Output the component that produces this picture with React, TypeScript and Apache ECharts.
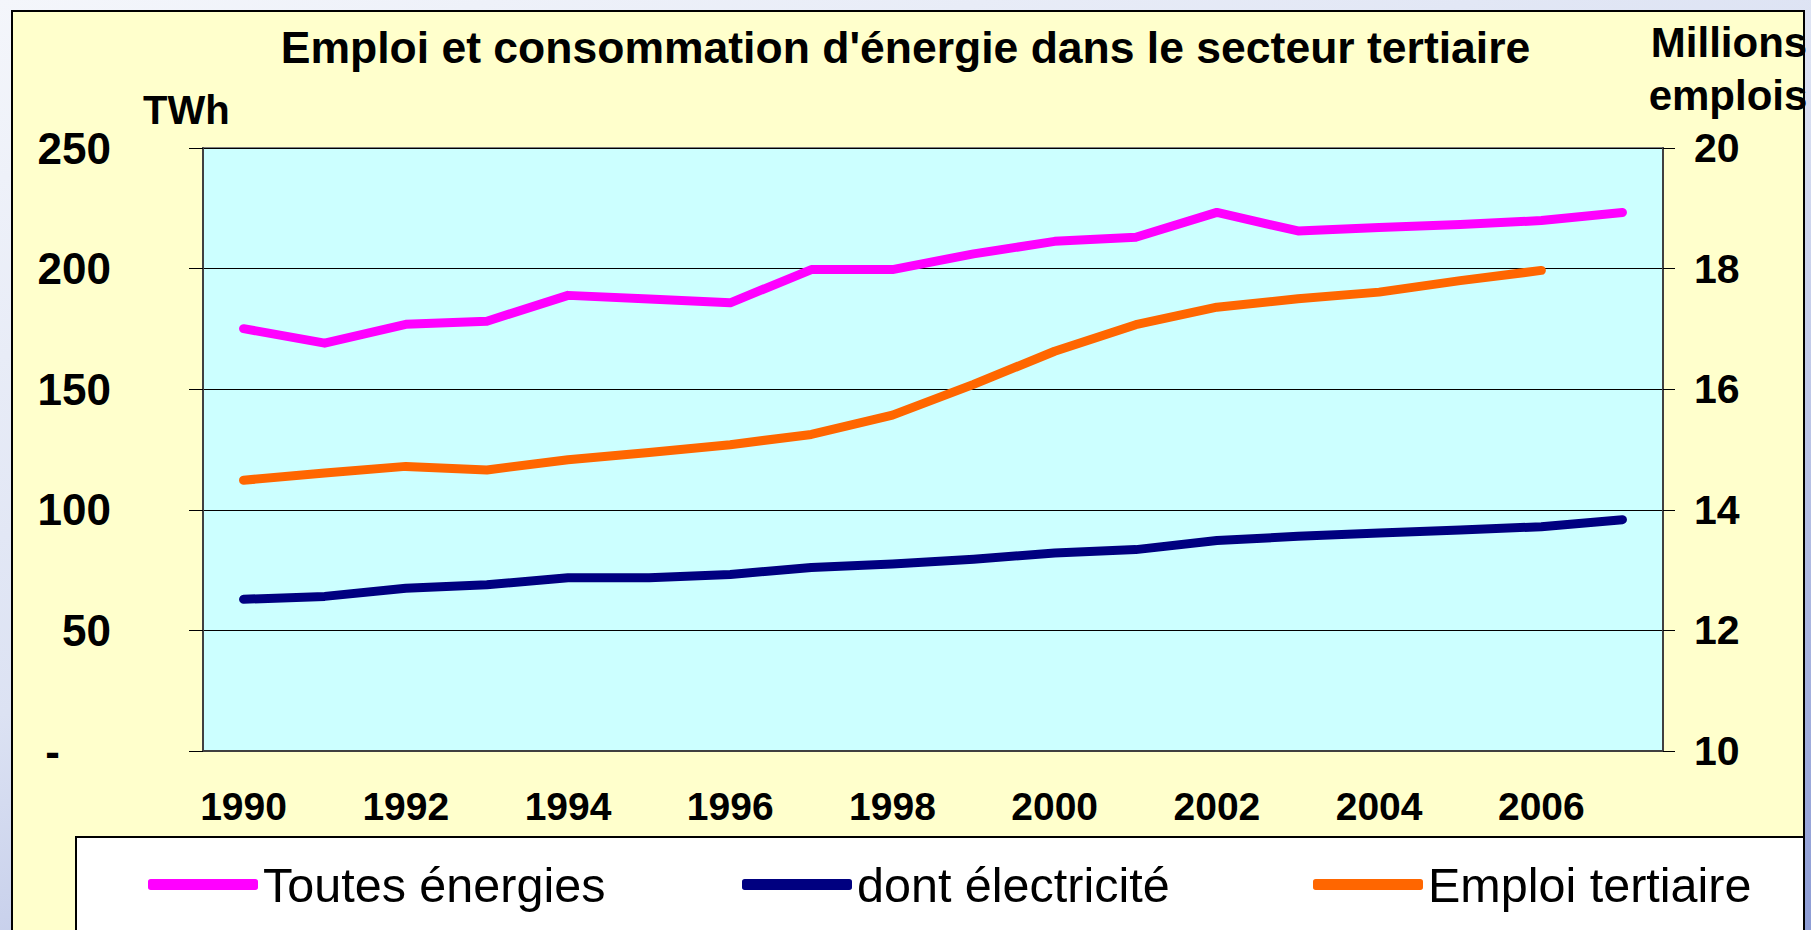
import React, { useEffect, useRef } from "react";
import * as echarts from "echarts";

const years = ["1990", "1991", "1992", "1993", "1994", "1995", "1996", "1997", "1998", "1999", "2000", "2001", "2002", "2003", "2004", "2005", "2006", "2007"];
const toutesEnergies = [175.1, 169.1, 176.9, 178.2, 188.9, 187.4, 185.8, 199.6, 199.6, 206.1, 211.3, 213.0, 223.3, 215.6, 217.0, 218.3, 219.9, 223.3];
const electricite = [62.9, 64.1, 67.5, 68.9, 71.8, 71.8, 73.2, 76.1, 77.5, 79.5, 82.1, 83.5, 87.3, 89.0, 90.4, 91.6, 93.0, 95.9];
const emploiTertiaire = [14.49, 14.61, 14.72, 14.66, 14.83, 14.95, 15.08, 15.25, 15.57, 16.08, 16.63, 17.07, 17.36, 17.5, 17.61, 17.8, 17.97, null];

const seriesNames = ["Toutes énergies", "dont électricité", "Emploi tertiaire"];
const seriesColors = ["#FF00FF", "#000080", "#FF6600"];

const FONT = "'Liberation Sans', Arial, Helvetica, sans-serif";

export default function App() {
  const ref = useRef<HTMLDivElement>(null);
  useEffect(() => {
    if (!ref.current) return;
    const chart = echarts.init(ref.current, null, { renderer: "svg" });
    const legendLefts = [148, 742, 1313];
    chart.setOption({
      animation: false,
      backgroundColor: "transparent",
      textStyle: { fontFamily: FONT },
      title: {
        text: "Emploi et consommation d'énergie dans le secteur tertiaire",
        left: "center",
        top: 25,
        padding: 0,
        textStyle: { fontSize: 44.5, fontWeight: "bold", color: "#000", fontFamily: FONT },
      },
      graphic: [
        {
          type: "rect",
          z: -10,
          shape: { x: 12, y: 11, width: 1792, height: 940 },
          style: { fill: "#FFFFCC", stroke: "#000", lineWidth: 2 },
        },
        {
          type: "rect",
          z: -9,
          shape: { x: 76, y: 837, width: 1728, height: 200 },
          style: { fill: "#FFFFFF", stroke: "#000", lineWidth: 2 },
        },
        {
          type: "text",
          x: 143,
          y: 110,
          style: { text: "TWh", font: `bold 40px ${FONT}`, fill: "#000", textAlign: "left", textVerticalAlign: "middle" },
        },
        {
          type: "text",
          x: 1729,
          y: 42,
          style: { text: "Millions", font: `bold 42px ${FONT}`, fill: "#000", textAlign: "center", textVerticalAlign: "middle" },
        },
        {
          type: "text",
          x: 1728,
          y: 95,
          style: { text: "emplois", font: `bold 42px ${FONT}`, fill: "#000", textAlign: "center", textVerticalAlign: "middle" },
        },
      ],
      legend: seriesNames.map((n, i) => ({
        data: [n],
        left: legendLefts[i],
        top: 860,
        padding: 0,
        icon: "roundRect",
        itemWidth: 110,
        itemHeight: 11,
        textStyle: { fontSize: 48.5, color: "#000", fontFamily: FONT },
      })),
      grid: {
        left: 203,
        right: 148,
        top: 148,
        bottom: 179,
        show: true,
        backgroundColor: "#CCFFFF",
        borderColor: "#808080",
        borderWidth: 2,
      },
      xAxis: {
        type: "category",
        data: years,
        boundaryGap: true,
        axisLine: { lineStyle: { color: "#404040", width: 2 } },
        axisTick: { inside: true, length: 11, interval: 0, lineStyle: { color: "#000", width: 1 } },
        axisLabel: { interval: 1, margin: 36, fontSize: 39, fontWeight: "bold", color: "#000", fontFamily: FONT },
        splitLine: { show: false },
      },
      yAxis: [
        {
          type: "value",
          min: 0,
          max: 250,
          interval: 50,
          position: "left",
          axisLine: { show: true, lineStyle: { color: "#404040", width: 2 } },
          axisTick: { show: true, length: 14, lineStyle: { color: "#000", width: 1 } },
          axisLabel: {
            margin: 92,
            fontSize: 44,
            fontWeight: "bold",
            color: "#000",
            fontFamily: FONT,
            formatter: (v: number) => (v === 0 ? "{d|-}" : String(v)),
            rich: { d: { fontSize: 44, fontWeight: "bold", padding: [0, 51, 0, 0], fontFamily: FONT } },
          },
          splitLine: { show: true, lineStyle: { color: "#000", width: 1 } },
        },
        {
          type: "value",
          min: 10,
          max: 20,
          interval: 2,
          position: "right",
          axisLine: { show: true, lineStyle: { color: "#404040", width: 2 } },
          axisTick: { show: true, length: 12, lineStyle: { color: "#000", width: 1 } },
          axisLabel: { margin: 31, fontSize: 41, fontWeight: "bold", color: "#000", fontFamily: FONT },
          splitLine: { show: false },
        },
      ],
      series: [
        {
          name: seriesNames[0],
          type: "line",
          yAxisIndex: 0,
          data: toutesEnergies,
          symbol: "none",
          color: seriesColors[0],
          lineStyle: { width: 9, color: seriesColors[0], cap: "round", join: "round" },
        },
        {
          name: seriesNames[1],
          type: "line",
          yAxisIndex: 0,
          data: electricite,
          symbol: "none",
          color: seriesColors[1],
          lineStyle: { width: 9, color: seriesColors[1], cap: "round", join: "round" },
        },
        {
          name: seriesNames[2],
          type: "line",
          yAxisIndex: 1,
          data: emploiTertiaire,
          symbol: "none",
          color: seriesColors[2],
          lineStyle: { width: 9, color: seriesColors[2], cap: "round", join: "round" },
        },
      ],
    });
    return () => chart.dispose();
  }, []);
  return (
    <div
      style={{
        position: "fixed",
        left: 0,
        top: 0,
        width: 1811,
        height: 930,
        background: "linear-gradient(160deg, #F4F6FB 0%, #DCE2F3 45%, #8E9DD5 100%)",
      }}
    >
      <div ref={ref} style={{ width: 1811, height: 930 }} />
    </div>
  );
}
